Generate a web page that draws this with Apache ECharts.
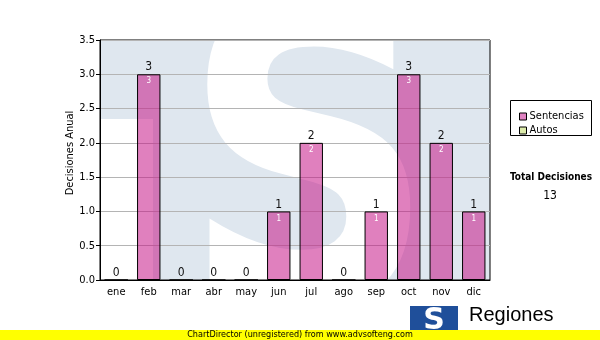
<!DOCTYPE html>
<html>
<head>
<meta charset="utf-8">
<script src="https://cdn.jsdelivr.net/npm/echarts@6/dist/echarts.min.js"></script>
<style>
html,body{margin:0;padding:0;background:#fff;}
#chart{width:600px;height:340px;}
</style>
</head>
<body>
<div id="chart"></div>
<script>
const categories = ['ene','feb','mar','abr','may','jun','jul','ago','sep','oct','nov','dic'];
const sentencias = [0,3,0,0,0,1,2,0,1,3,2,1];
const autos = [0,0,0,0,0,0,0,0,0,0,0,0];
const yMin = 0, yMax = 3.5, yStep = 0.5;
const seriesNames = ['Sentencias','Autos'];
const yAxisTitle = 'Decisiones Anual';
const totalTitle = 'Total Decisiones';
const footer = 'ChartDirector (unregistered) from www.advsofteng.com';
const logoText = 'Regiones';

const total = sentencias.reduce((a,b)=>a+b,0) + autos.reduce((a,b)=>a+b,0);
const FONT = "'DejaVu Sans Condensed', 'DejaVu Sans', sans-serif";

const chart = echarts.init(document.getElementById('chart'), null, {renderer:'canvas'});
chart.setOption({
  animation: false,
  backgroundColor: '#ffffff',
  grid: {left:100, top:40, right:110, bottom:60, show:true, borderColor:'#000', borderWidth:1, backgroundColor:'transparent'},
  xAxis: {
    type:'category', data:categories,
    axisLine:{lineStyle:{color:'#000', width:1}},
    axisTick:{alignWithLabel:true, length:4, lineStyle:{color:'#000'}},
    axisLabel:{color:'#000', fontSize:11, fontFamily:FONT, margin:7}
  },
  yAxis: {
    type:'value', min:yMin, max:yMax, interval:yStep,
    axisLine:{show:true, lineStyle:{color:'#000', width:1}},
    axisTick:{show:true, length:4, lineStyle:{color:'#000'}},
    axisLabel:{color:'#000', fontSize:11, fontFamily:FONT, margin:5, formatter:v=>v.toFixed(1)},
    splitLine:{lineStyle:{color:'#b4b4b4', width:1}}
  },
  legend: {
    orient:'vertical', left:514, top:106, itemGap:3, itemWidth:7, itemHeight:7, icon:'rect',
    textStyle:{fontSize:11, fontFamily:FONT, color:'#000', padding:[0,0,0,-2]},
    itemStyle:{borderColor:'#000', borderWidth:1},
    data:[
      {name:seriesNames[0], itemStyle:{color:'#e082c2', opacity:1}},
      {name:seriesNames[1], itemStyle:{color:'#dcebaa', opacity:1}}
    ]
  },
  series: [
    {
      name:seriesNames[0], type:'bar', data:sentencias, barWidth:'72%', barGap:'-100%', z:3,
      itemStyle:{color:'rgba(196,15,132,0.53)', borderColor:'#000', borderWidth:1},
      label:{show:true, position:'top', distance:1, color:'#111', fontSize:12, fontFamily:FONT}
    },
    {
      name:seriesNames[0]+'_in', type:'bar', data:sentencias, barWidth:'72%', barGap:'-100%', z:4,
      itemStyle:{color:'rgba(0,0,0,0)', borderWidth:0},
      label:{show:true, position:'insideTop', distance:3, color:'#fff', fontSize:8, fontFamily:FONT,
        formatter:p=>p.value>0?String(p.value):''}
    },
    {
      name:seriesNames[1], type:'bar', data:autos, barWidth:'72%', barGap:'-100%', z:3,
      itemStyle:{color:'#dcebaa', borderWidth:0}
    }
  ],
  graphic: [
    {type:'rect', z:-5, shape:{x:100, y:40, width:390, height:240}, style:{fill:'#dfe7ef'}},
    {type:'rect', z:-4, shape:{x:100, y:119, width:53, height:161}, style:{fill:'#ffffff'}},
    {type:'text', z:-4, x:309, y:192, scaleX:0.84, style:{text:'S', fontFamily:'DejaVu Sans', fontWeight:'bold', fontSize:420, fill:'#ffffff', textAlign:'center', textVerticalAlign:'middle'}},
    {type:'rect', z:-3, shape:{x:90, y:281, width:410, height:59}, style:{fill:'#ffffff'}},
    {type:'rect', z:-3, shape:{x:90, y:0, width:410, height:40}, style:{fill:'#ffffff'}},
    {type:'text', z:5, x:70, y:153, rotation:Math.PI/2, style:{text:yAxisTitle, fontFamily:FONT, fontSize:11, fill:'#000', textAlign:'center', textVerticalAlign:'middle'}},
    {type:'rect', z:5, shape:{x:510.5, y:100.5, width:81, height:35}, style:{fill:'none', stroke:'#000', lineWidth:1}},
    {type:'text', z:5, x:551, y:177, style:{text:totalTitle, fontFamily:FONT, fontWeight:'bold', fontSize:10, fill:'#000', textAlign:'center', textVerticalAlign:'middle'}},
    {type:'text', z:5, x:550, y:196, style:{text:String(total), fontFamily:FONT, fontSize:12, fill:'#000', textAlign:'center', textVerticalAlign:'middle'}},
    {type:'rect', z:6, shape:{x:410, y:306, width:48, height:30}, style:{fill:'#1f4f9a'}},
    {type:'text', z:7, x:434, y:321, style:{text:'S', fontFamily:'DejaVu Sans', fontWeight:'bold', fontSize:30, fill:'#ffffff', textAlign:'center', textVerticalAlign:'middle'}},
    {type:'text', z:6, x:469, y:315, style:{text:logoText, fontFamily:'Liberation Sans', fontSize:20, fill:'#000', textAlign:'left', textVerticalAlign:'middle'}},
    {type:'rect', z:10, shape:{x:0, y:330, width:600, height:10}, style:{fill:'#ffff00'}},
    {type:'text', z:11, x:300, y:335, style:{text:footer, fontFamily:FONT, fontSize:9, fill:'#000', textAlign:'center', textVerticalAlign:'middle'}}
  ]
});
</script>
</body>
</html>
